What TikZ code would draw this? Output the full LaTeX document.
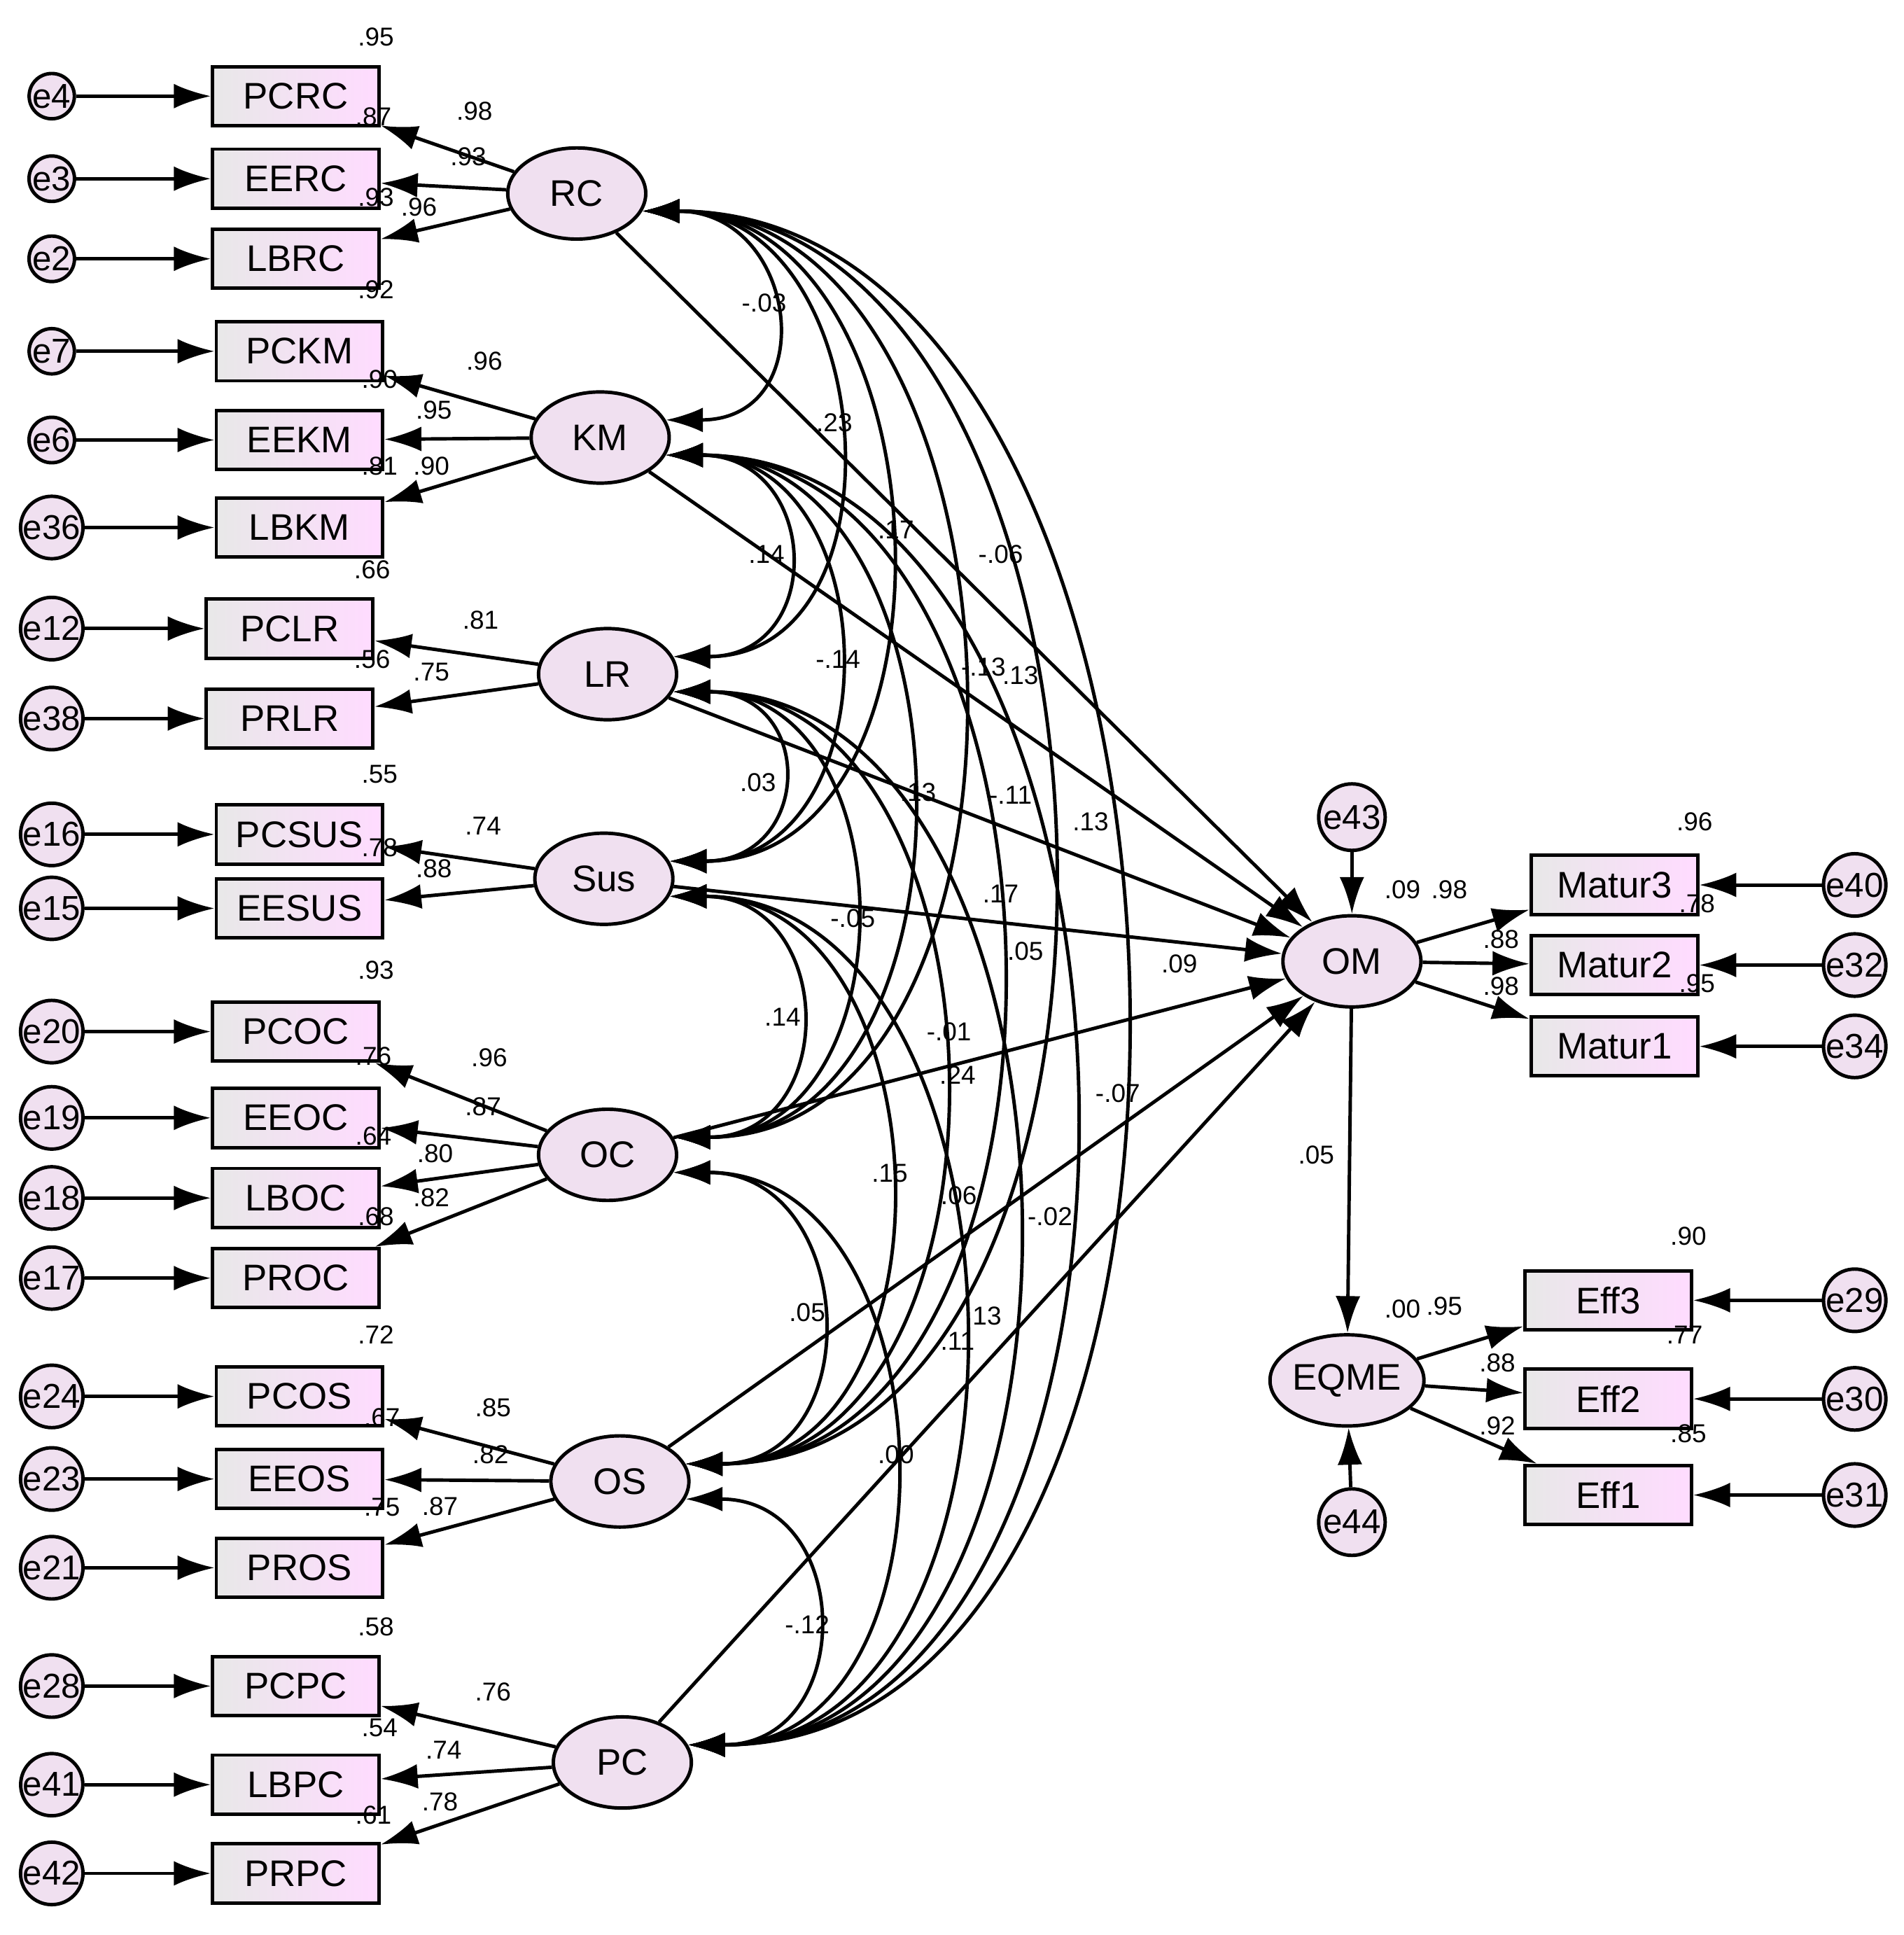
\documentclass[tikz,border=0pt]{standalone}
\usepackage{fontspec}
\setmainfont{Liberation Sans}
\usetikzlibrary{arrows.meta,shapes.geometric}

\tikzset{
  arr/.style={-{Latex[length=30pt,width=20pt]},line width=2.8pt},
  cov/.style={{Latex[length=30pt,width=20pt]}-{Latex[length=30pt,width=20pt]},line width=2.8pt},
  item/.style={draw,line width=2.8pt,minimum width=135pt,minimum height=48pt,inner sep=0pt,
    left color=gray!18,right color=magenta!14,font=\fontsize{30}{30}\selectfont},
  latent/.style={ellipse,draw,line width=2.8pt,minimum width=112pt,minimum height=74pt,inner sep=0pt,
    fill=violet!12,font=\fontsize{30}{30}\selectfont},
  err/.style={circle,draw,line width=2.8pt,minimum size=34pt,inner sep=0pt,fill=violet!12,
    font=\fontsize{28}{28}\selectfont},
  num/.style={font=\fontsize{21}{21}\selectfont,inner sep=0pt}
}

\begin{document}
\begin{tikzpicture}[x=1pt,y=-1pt]
    \useasboundingbox (0,0) rectangle (1545,1570);

    % latent variables
    \node[latent] (RC) at (468,157) {RC};
    \node[latent] (KM) at (487,355) {KM};
    \node[latent] (LR) at (493,547) {LR};
    \node[latent] (Sus) at (490,713) {Sus};
    \node[latent] (OC) at (493,937) {OC};
    \node[latent] (OS) at (503,1202) {OS};
    \node[latent] (PC) at (505,1430) {PC};
    \node[latent] (OM) at (1097,780) {OM};
    \node[latent,minimum width=118pt] (EQME) at (1093,1120) {EQME};
    \node[err,minimum size=54pt] (e43) at (1097,663) {e43};
    \node[err,minimum size=54pt] (e44) at (1097,1235) {e44};

    % indicators of the left side
    \foreach \b/\x/\y/\e/\l in {PCRC/240/78/4/RC, EERC/240/145/3/RC, LBRC/240/210/2/RC,
        PCKM/243/285/7/KM, EEKM/243/357/6/KM, LBKM/243/428/36/KM,
        PCLR/235/510/12/LR, PRLR/235/583/38/LR, PCSUS/243/677/16/Sus, EESUS/243/737/15/Sus,
        PCOC/240/837/20/OC, EEOC/240/907/19/OC, LBOC/240/972/18/OC, PROC/240/1037/17/OC,
        PCOS/243/1133/24/OS, EEOS/243/1200/23/OS, PROS/243/1272/21/OS,
        PCPC/240/1368/28/PC, LBPC/240/1448/41/PC, PRPC/240/1520/42/PC}{
      \node[item] (\b) at (\x,\y) {\b};
      \node[err] (e\e) at (42,\y) {e\e};
      \draw[arr] (e\e) -- (\b);
      \draw[arr] (\l) -- (\b);
    }

    % indicators of the right side
    \foreach \b/\x/\y/\e/\l in {Matur3/1310/718/40/OM, Matur2/1310/783/32/OM, Matur1/1310/849/34/OM,
        Eff3/1305/1055/29/EQME, Eff2/1305/1135/30/EQME, Eff1/1305/1213/31/EQME}{
      \node[item] (\b) at (\x,\y) {\b};
      \node[err] (e\e) at (1505,\y) {e\e};
      \draw[arr] (e\e) -- (\b);
      \draw[arr] (\l) -- (\b);
    }

    % structural paths
    \foreach \l in {RC,KM,LR,Sus,OC,OS,PC}
      \draw[arr] (\l) -- (OM);
    \draw[arr] (OM) -- (EQME);
    \draw[arr] (e43) -- (OM);
    \draw[arr] (e44) -- (EQME);

    % covariances
    \foreach \i/\a/\ya in {1/RC/157,2/KM/355,3/LR/547,4/Sus/713,5/OC/937,6/OS/1202,7/PC/1430}
      \foreach \j/\c/\yc in {1/RC/157,2/KM/355,3/LR/547,4/Sus/713,5/OC/937,6/OS/1202,7/PC/1430}{
        \ifnum\j>\i
          \pgfmathsetmacro\k{60+0.34*(\yc-\ya)}
          \draw[cov] (\a.-15) .. controls +(\k,0) and +(\k,0) .. (\c.15);
        \fi
      }

    % estimates
    \foreach \t/\x/\y in {.95/305/30, .98/385/90, .87/303/95, .93/380/127, .93/305/160, .96/340/168,
        .92/305/235, .96/393/293, .90/308/308, .95/352/333, .81/308/378, .90/350/378,
        .66/302/462, .81/390/503, .56/302/535, .75/350/545, .55/308/628, .74/392/670,
        .78/308/688, .88/352/705, .93/305/787, .96/397/858, .76/303/857, .87/392/898,
        .64/303/922, .80/353/936, .68/305/987, .82/350/972, .72/305/1083, .85/400/1142,
        .67/310/1150, .82/398/1180, .75/310/1223, .87/357/1222, .58/305/1320, .76/400/1373,
        .54/308/1402, .74/360/1420, .61/303/1473, .78/357/1462,
        -.03/620/246, .23/677/343, .17/727/430, -.06/812/450, .14/622/450, -.14/680/535,
        -.13/798/541, .13/828/548, .03/615/635, .13/745/643, -.11/820/645, .13/885/667,
        .17/812/725, -.05/692/745, .05/832/772, .09/957/782, .14/635/825, -.01/770/837,
        .24/777/872, -.07/907/887, .15/722/952, .06/778/970, -.02/852/987, .05/655/1065,
        .13/798/1068, .11/777/1088, .00/727/1180, -.12/655/1318,
        .09/1138/722, .98/1176/722, .88/1218/762, .78/1377/733, .96/1375/667, .98/1218/800,
        .95/1377/798, .05/1068/937, .90/1370/1003, .00/1138/1062, .95/1172/1060,
        .77/1367/1083, .88/1215/1106, .92/1215/1157, .85/1370/1163}
      \node[num] at (\x,\y) {\t};
\end{tikzpicture}
\end{document}
